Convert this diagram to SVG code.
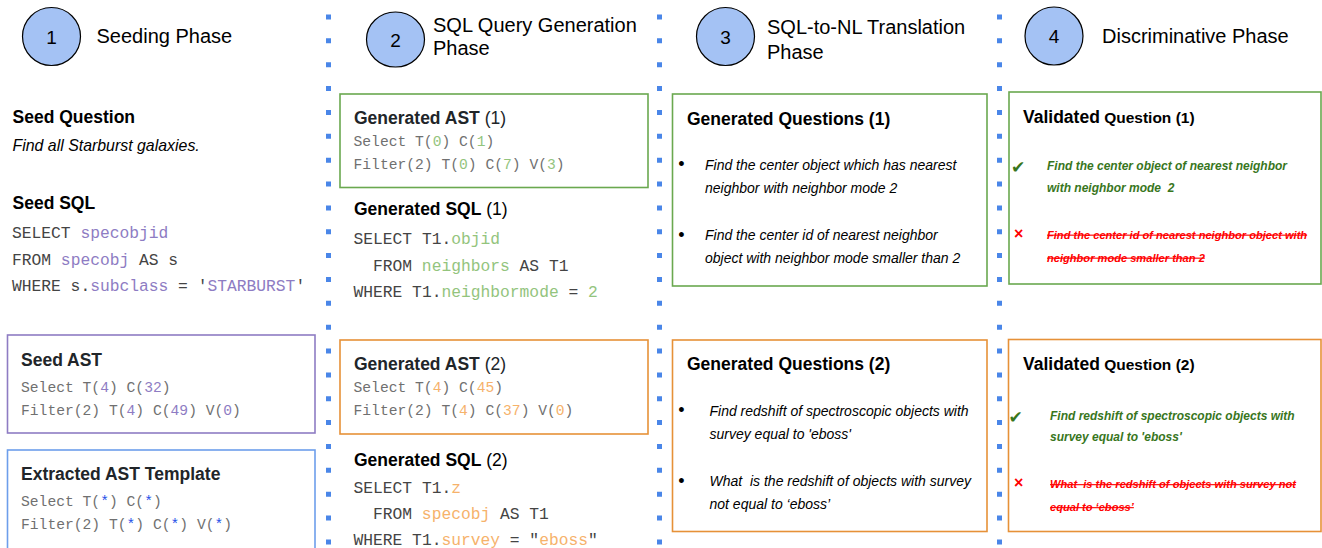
<svg xmlns="http://www.w3.org/2000/svg" width="1322" height="548" viewBox="0 0 1322 548">
<style>
text { font-family: "Liberation Sans", Arial, sans-serif; fill: #000; }
.circ { fill: #a4c2f4; stroke: #000; stroke-width: 1.2; }
.num { font-size: 19px; text-anchor: middle; }
.title { font-size: 20px; }
.h { font-size: 17.5px; font-weight: bold; }
.hd { font-size: 17.5px; font-weight: bold; fill: #212529; }
.nb { font-weight: normal; }
.code { font-family: "Liberation Mono", "Courier New", monospace; font-size: 16.3px; fill: #444; }
.ast { font-family: "Liberation Mono", "Courier New", monospace; font-size: 14.67px; fill: #707070; }
.pu { fill: #8e7cc3; }
.bl { fill: #2450e8; }
.gr { fill: #93c47d; }
.or { fill: #f6b26b; }
.box { fill: none; stroke-width: 1.6; }
.bpu { stroke: #8e7cc3; }
.bbl { stroke: #6d9eeb; }
.bgr { stroke: #6aa84f; }
.bor { stroke: #e69138; }
.q { font-size: 14px; font-style: italic; }
.bul { font-size: 18px; text-anchor: middle; }
.vg { font-size: 12px; font-style: italic; font-weight: bold; fill: #38761d; }
.vr { font-size: 11.1px; font-style: italic; font-weight: bold; fill: #ff0000; text-decoration: line-through; }
.ck { font-family: "DejaVu Sans", sans-serif; font-size: 17px; fill: #38761d; }
.x { font-size: 16px; font-weight: bold; fill: #ff0000; }
.div { stroke: #4a86e8; stroke-width: 5; stroke-dasharray: 5 18.86; }
</style>

<g id="dividers">
  <line class="div" x1="328.5" y1="14.5" x2="328.5" y2="548"/>
  <line class="div" x1="659.5" y1="14.5" x2="659.5" y2="548"/>
  <line class="div" x1="999.5" y1="14.5" x2="999.5" y2="548"/>
</g>

<g id="phase1">
  <circle class="circ" cx="51.5" cy="36.5" r="29"/>
  <text class="num" x="51.5" y="43.5">1</text>
  <text class="title" x="96.5" y="43">Seeding Phase</text>
</g>

<g id="seed-question">
  <text class="h" x="12.5" y="123">Seed Question</text>
  <text x="12.5" y="151" font-size="15.9" font-style="italic">Find all Starburst galaxies.</text>
</g>

<g id="seed-sql">
  <text class="h" x="12.5" y="208.5">Seed SQL</text>
  <text class="code" x="12" y="238">SELECT <tspan class="pu">specobjid</tspan></text>
  <text class="code" x="12" y="265">FROM <tspan class="pu">specobj</tspan> AS s</text>
  <text class="code" x="12" y="291">WHERE s.<tspan class="pu">subclass</tspan> = '<tspan class="pu">STARBURST</tspan>'</text>
</g>

<g id="seed-ast">
  <rect class="box bpu" x="7.5" y="335" width="307.5" height="98"/>
  <text class="hd" x="21" y="366">Seed AST</text>
  <text class="ast" x="21" y="392">Select T(<tspan class="pu">4</tspan>) C(<tspan class="pu">32</tspan>)</text>
  <text class="ast" x="21" y="414.5">Filter(2) T(<tspan class="pu">4</tspan>) C(<tspan class="pu">49</tspan>) V(<tspan class="pu">0</tspan>)</text>
</g>

<g id="ast-template">
  <rect class="box bbl" x="7.5" y="450" width="307.5" height="110"/>
  <text class="hd" x="21" y="480">Extracted AST Template</text>
  <text class="ast" x="21" y="506">Select T(<tspan class="bl">*</tspan>) C(<tspan class="bl">*</tspan>)</text>
  <text class="ast" x="21" y="529">Filter(2) T(<tspan class="bl">*</tspan>) C(<tspan class="bl">*</tspan>) V(<tspan class="bl">*</tspan>)</text>
</g>

<g id="phase2">
  <ellipse class="circ" cx="395.5" cy="39.5" rx="29" ry="27.5"/>
  <text class="num" x="395.5" y="46.5">2</text>
  <text class="title" x="433" y="32">SQL Query Generation</text>
  <text class="title" x="433" y="55">Phase</text>
</g>

<g id="gen-ast-1">
  <rect class="box bgr" x="340" y="94" width="308" height="93.5"/>
  <text class="hd" x="354" y="123.5">Generated AST<tspan class="nb"> (1)</tspan></text>
  <text class="ast" x="353.5" y="146">Select T(<tspan class="gr">0</tspan>) C(<tspan class="gr">1</tspan>)</text>
  <text class="ast" x="353.5" y="168.5">Filter(2) T(<tspan class="gr">0</tspan>) C(<tspan class="gr">7</tspan>) V(<tspan class="gr">3</tspan>)</text>
</g>

<g id="gen-sql-1">
  <text class="h" x="354" y="215">Generated SQL<tspan class="nb"> (1)</tspan></text>
  <text class="code" x="353.5" y="244">SELECT T1.<tspan class="gr">objid</tspan></text>
  <text class="code" x="373" y="270.5">FROM <tspan class="gr">neighbors</tspan> AS T1</text>
  <text class="code" x="353.5" y="297">WHERE T1.<tspan class="gr">neighbormode</tspan> = <tspan class="gr">2</tspan></text>
</g>

<g id="gen-ast-2">
  <rect class="box bor" x="340" y="340" width="308" height="94"/>
  <text class="hd" x="354" y="370">Generated AST<tspan class="nb"> (2)</tspan></text>
  <text class="ast" x="353.5" y="392">Select T(<tspan class="or">4</tspan>) C(<tspan class="or">45</tspan>)</text>
  <text class="ast" x="353.5" y="414.5">Filter(2) T(<tspan class="or">4</tspan>) C(<tspan class="or">37</tspan>) V(<tspan class="or">0</tspan>)</text>
</g>

<g id="gen-sql-2">
  <text class="h" x="354" y="465.5">Generated SQL<tspan class="nb"> (2)</tspan></text>
  <text class="code" x="353.5" y="493">SELECT T1.<tspan class="or">z</tspan></text>
  <text class="code" x="373" y="519">FROM <tspan class="or">specobj</tspan> AS T1</text>
  <text class="code" x="353.5" y="544.5">WHERE T1.<tspan class="or">survey</tspan> = "<tspan class="or">eboss</tspan>"</text>
</g>

<g id="phase3">
  <circle class="circ" cx="725.5" cy="36.5" r="29"/>
  <text class="num" x="725.5" y="43.5">3</text>
  <text class="title" x="767" y="33.5">SQL-to-NL Translation</text>
  <text class="title" x="767" y="58.5">Phase</text>
</g>

<g id="gen-questions-1">
  <rect class="box bgr" x="672.5" y="94" width="314.5" height="192"/>
  <text class="h" x="687" y="124.5" font-size="17">Generated Questions (1)</text>
  <text class="bul" x="681.5" y="170">•</text>
  <text class="q" x="705" y="169.5">Find the center object which has nearest</text>
  <text class="q" x="705" y="192.5">neighbor with neighbor mode 2</text>
  <text class="bul" x="681.5" y="240.5">•</text>
  <text class="q" x="705" y="240">Find the center id of nearest neighbor</text>
  <text class="q" x="705" y="263">object with neighbor mode smaller than 2</text>
</g>

<g id="gen-questions-2">
  <rect class="box bor" x="672.5" y="340" width="314.5" height="191.5"/>
  <text class="h" x="687" y="370" font-size="17">Generated Questions (2)</text>
  <text class="bul" x="681.5" y="416">•</text>
  <text class="q" x="709.5" y="416">Find redshift of spectroscopic objects with</text>
  <text class="q" x="709.5" y="439">survey equal to 'eboss'</text>
  <text class="bul" x="681.5" y="486.5">•</text>
  <text class="q" x="709.5" y="486" xml:space="preserve">What  is the redshift of objects with survey</text>
  <text class="q" x="709.5" y="508.5">not equal to ‘eboss’</text>
</g>

<g id="phase4">
  <circle class="circ" cx="1054" cy="36" r="29"/>
  <text class="num" x="1054" y="43">4</text>
  <text class="title" x="1102" y="43">Discriminative Phase</text>
</g>

<g id="validated-1">
  <rect class="box bgr" x="1009" y="92" width="312" height="192"/>
  <text class="h" x="1023" y="122.5" font-size="18">Validated<tspan font-size="15.5"> Question (1)</tspan></text>
  <text class="ck" x="1011" y="173">✔</text>
  <text class="vg" x="1047" y="169.5">Find the center object of nearest neighbor</text>
  <text class="vg" x="1047" y="192" xml:space="preserve">with neighbor mode  2</text>
  <text class="x" x="1014" y="239">×</text>
  <text class="vr" x="1047" y="238.5">Find the center id of nearest neighbor object with</text>
  <text class="vr" x="1047" y="261.5">neighbor mode smaller than 2</text>
</g>

<g id="validated-2">
  <rect class="box bor" x="1008.5" y="339.5" width="312.5" height="192"/>
  <text class="h" x="1023" y="370" font-size="18">Validated<tspan font-size="15.5"> Question (2)</tspan></text>
  <text class="ck" x="1008.5" y="423">✔</text>
  <text class="vg" x="1050" y="419.5">Find redshift of spectroscopic objects with</text>
  <text class="vg" x="1050" y="441">survey equal to 'eboss'</text>
  <text class="x" x="1014" y="488">×</text>
  <text class="vr" x="1050" y="488" xml:space="preserve">What  is the redshift of objects with survey not</text>
  <text class="vr" x="1050" y="511">equal to ‘eboss’</text>
</g>
</svg>
